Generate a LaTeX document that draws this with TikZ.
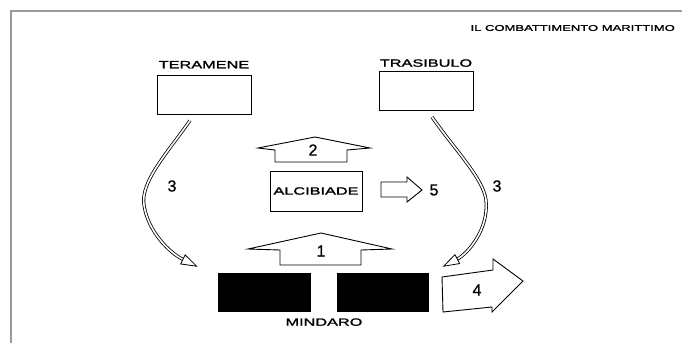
\documentclass[tikz,border=0pt]{standalone}
\usepackage{fontspec}
\setmainfont{Liberation Sans}[FakeBold=0.8]
\newfontfamily\widefont[FakeStretch=1.55,FakeBold=1.6]{Liberation Sans}
\usepackage{tikz}
\usetikzlibrary{positioning,arrows.meta,calc}
\definecolor{frameline}{HTML}{9A9A9A}

\begin{document}
\begin{tikzpicture}[x=1pt,y=-1pt,
  box/.style={draw,line width=1pt,minimum width=94pt,minimum height=39pt,inner sep=0pt},
  ship/.style={fill=black,minimum width=93pt,minimum height=39pt,inner sep=0pt},
  lbl/.style={inner sep=0pt,font=\widefont\fontsize{10.5}{12}\selectfont},
  num/.style={inner sep=0pt,font=\fontsize{16}{18}\selectfont},
  fat/.style={draw,line width=0.9pt,line join=miter,fill=white},
  move/.style={double,double distance=1.6pt,line width=0.8pt,-{Triangle[open,length=17pt,width=11pt]}}
]
\useasboundingbox (0,0) rectangle (682,343);
\draw[frameline,line width=1.5pt] (11,343) -- (11,11) -- (682,11);
\node[lbl,anchor=east,font=\widefont\fontsize{8.4}{10}\selectfont] (title) at (675,28) {IL COMBATTIMENTO MARITTIMO};

% commanders
\node[box] (ter) at (204,94.5) {};
\node[lbl,above=6pt of ter] (terlbl) {TERAMENE};
\node[box] (tras) at (426,91) {};
\node[lbl,above=4pt of tras] (traslbl) {TRASIBULO};
\node[box,lbl,minimum width=92pt,minimum height=40pt] (alc) at (316,191) {ALCIBIADE};

% ships of Mindaro
\node[ship] (shipL) at (264.5,292.5) {};
\node[ship,minimum width=92pt,right=26pt of shipL] (shipR) {};
\node[lbl,below=6pt of {$(shipL.south)!0.5!(shipR.south)$}] (mind) {MINDARO};

% broad arrows
\draw[fat] (280,265) -- (280,250) -- (248,249) -- (321,233) -- (392,249) -- (361,250) -- (361,265) -- cycle;
\node[num] (n1) at (321,251) {1};
\draw[fat] (275,162) -- (275,150) -- (258,148) -- (315,137) -- (370,148) -- (347,150) -- (347,162) -- cycle;
\node[num] (n2) at (313,150) {2};
\draw[fat] (381,182) -- (407,182) -- (407,177) -- (422,190) -- (407,202) -- (407,197) -- (381,197) -- cycle;
\node[num] (n5) at (434,190) {5};
\draw[fat] (442,277) -- (493,270) -- (493,259) -- (523,281) -- (492,312) -- (492,307) -- (443,312) -- cycle;
\node[num] (n4) at (477,290) {4};

% flank moves
\coordinate (ls) at ($(ter.south)+(-14,6)$);
\coordinate (le) at ($(shipL.north west)+(-20,-6)$);
\draw[move] (ls) .. controls (168,152) and (140,182) .. (144,205) .. controls (148,232) and (170,253) .. (le);
\node[num] (n3l) at (172,186) {3};
\coordinate (rs) at ($(tras.south)+(6,6)$);
\coordinate (re) at ($(shipR.north east)+(13,-6)$);
\draw[move] (rs) .. controls (455,150) and (483,178) .. (486,200) .. controls (489,230) and (467,254) .. (re);
\node[num] (n3r) at (497,186) {3};
\end{tikzpicture}
\end{document}
